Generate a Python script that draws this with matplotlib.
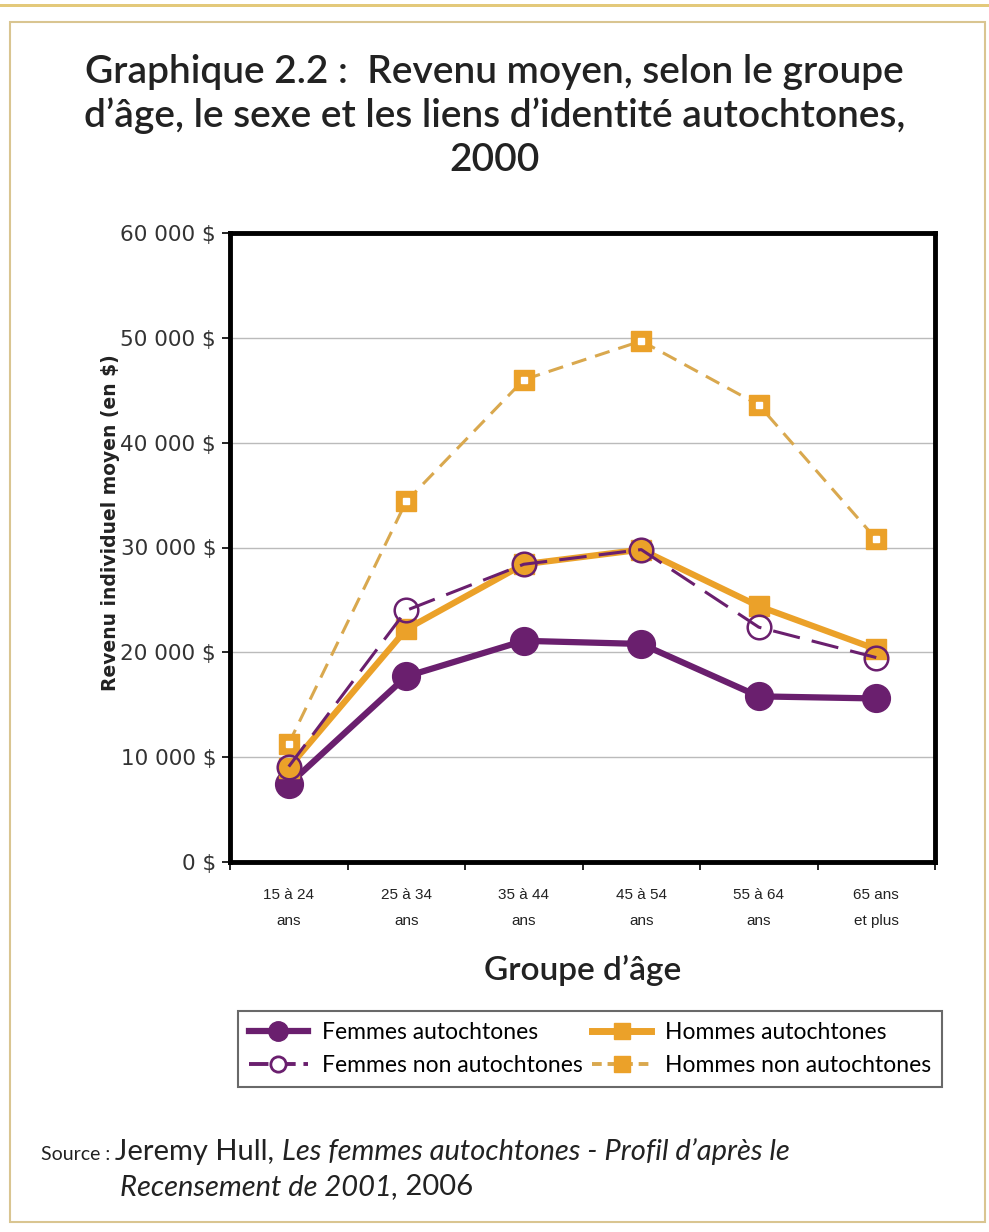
import numpy as np
import matplotlib
matplotlib.use("Agg")
import matplotlib.pyplot as plt
from matplotlib.patches import Rectangle
from matplotlib.lines import Line2D

# Données
groupes = ["15 à 24\nans", "25 à 34\nans", "35 à 44\nans", "45 à 54\nans", "55 à 64\nans", "65 ans\net plus"]
femmes_aut = [7400, 17700, 21100, 20800, 15800, 15600]
hommes_aut = [9000, 22200, 28400, 29800, 24400, 20300]
femmes_non_aut = [9100, 24000, 28400, 29800, 22400, 19500]
hommes_non_aut = [11300, 34400, 46000, 49700, 43600, 30800]
yticks = [0, 10000, 20000, 30000, 40000, 50000, 60000]

violet = "#6A1F6E"
orange = "#EBA129"
orange_tirets = "#D9A84E"
sans = ["DejaVu Sans"]
titre_font = ["Lato", "DejaVu Sans"]

fig = plt.figure(figsize=(9.89, 12.32), dpi=100)

# cadre de la page
fig.patches.append(Rectangle((10/989, 1-1222/1232), 975/989, 1200/1232, transform=fig.transFigure,
                             fill=False, edgecolor="#D9C591", linewidth=1.5))
fig.patches.append(Rectangle((0, 1-7/1232), 1, 3/1232, transform=fig.transFigure,
                             facecolor="#E3C97A", edgecolor="none"))

fig.text(0.5, 1-116/1232, "Graphique 2.2 :  Revenu moyen, selon le groupe\nd’âge, le sexe et les liens d’identité autochtones,\n2000",
         ha="center", va="center", fontsize=28, family=titre_font, fontweight="semibold",
         color="#222222", linespacing=1.25)

ax = fig.add_axes([230/989, 1-862/1232, 705/989, 629/1232])
x = np.arange(len(groupes))

ax.plot(x, hommes_non_aut, color=orange_tirets, lw=2.2, ls=(0, (5, 3)), marker="s", ms=14,
        mfc=orange, mec=orange, zorder=3)
ax.plot(x, hommes_non_aut, ls="none", marker="s", ms=4, mfc="white", mec="white", zorder=3.1)
ax.plot(x, femmes_aut, color=violet, lw=4.5, marker="o", ms=20, mfc=violet, mec=violet, zorder=4)
ax.plot(x, hommes_aut, color=orange, lw=4.5, marker="s", ms=14, mfc=orange, mec=orange, zorder=5)
ax.plot(x, femmes_non_aut, color=violet, lw=2.2, ls=(0, (9, 4)), marker="o", ms=17,
        mfc="none", mec=violet, mew=1.8, zorder=6)

ax.set_xlim(-0.5, 5.5)
ax.set_ylim(0, 60000)
ax.set_yticks(yticks)
ax.set_yticklabels([f"{v:,} $".replace(",", " ") for v in yticks], fontsize=15.5, family=sans, color="#333333")
ax.yaxis.grid(True, color="#BBBBBB", lw=1)
ax.set_axisbelow(True)
ax.set_xticks(np.arange(-0.5, 6, 1))
ax.set_xticklabels([])
ax.set_xticks(x, minor=True)
ax.set_xticklabels(groupes, minor=True, fontsize=11, family=["Liberation Sans"], color="#222222",
                   linespacing=2.1)
ax.tick_params(axis="x", which="major", length=6, width=1.2, direction="out")
ax.tick_params(axis="x", which="minor", length=0, pad=19)
ax.tick_params(axis="y", length=6, width=1.2, direction="out", pad=4)
for s in ax.spines.values():
    s.set_linewidth(3.5)
    s.set_color("black")

ax.set_ylabel("Revenu individuel moyen (en $)", fontsize=13.5, fontweight="bold", family=sans,
              color="#222222")
ax.yaxis.set_label_coords(-0.156, 0.54)
ax.set_xlabel("Groupe d’âge", fontsize=24, family=titre_font, fontweight="semibold", color="#222222")
ax.xaxis.set_label_coords(0.5, -(970 - 862) / 629)
ax.xaxis.label.set_va("center")

poignees = [
    Line2D([], [], color=violet, lw=4.5, marker="o", ms=14, mfc=violet, mec=violet),
    Line2D([], [], color=violet, lw=2.8, ls=(0, (5, 2)), marker="o", ms=11, mfc="white", mec=violet, mew=2),
    Line2D([], [], color=orange, lw=5, marker="s", ms=12, mfc=orange, mec=orange),
    Line2D([], [], color=orange_tirets, lw=2.8, ls=(0, (2.5, 1.5)), marker="s", ms=12, mfc=orange, mec=orange),
]
etiquettes = ["Femmes autochtones", "Femmes non autochtones", "Hommes autochtones", "Hommes non autochtones"]
leg = fig.legend(poignees, etiquettes, ncol=2, loc="center", bbox_to_anchor=(590/989, 1-1049/1232),
                 prop={"family": titre_font, "size": 16.5}, frameon=True, fancybox=False,
                 edgecolor="#444444", handlelength=2.6, handletextpad=0.6, columnspacing=0.4,
                 borderpad=0.45, labelspacing=0.55)
leg.get_frame().set_linewidth(1.5)

# source
fig.canvas.draw()
rend = fig.canvas.get_renderer()
def morceaux(x0, y0, parts):
    xp = x0
    for txt, st, sz in parts:
        t = fig.text(xp, y0, txt, fontsize=sz, style=st, family=titre_font, color="#222222", va="baseline")
        w = t.get_window_extent(renderer=rend).width
        xp += w / fig.bbox.width

morceaux(41/989, 1-1160/1232, [("Source : ", "normal", 14), ("Jeremy Hull, ", "normal", 21),
                               ("Les femmes autochtones - Profil d’après le", "italic", 21)])
morceaux(120/989, 1-1195/1232, [("Recensement de 2001,", "italic", 21), (" 2006", "normal", 21)])

fig.savefig("out.png", dpi=100, facecolor="white")
